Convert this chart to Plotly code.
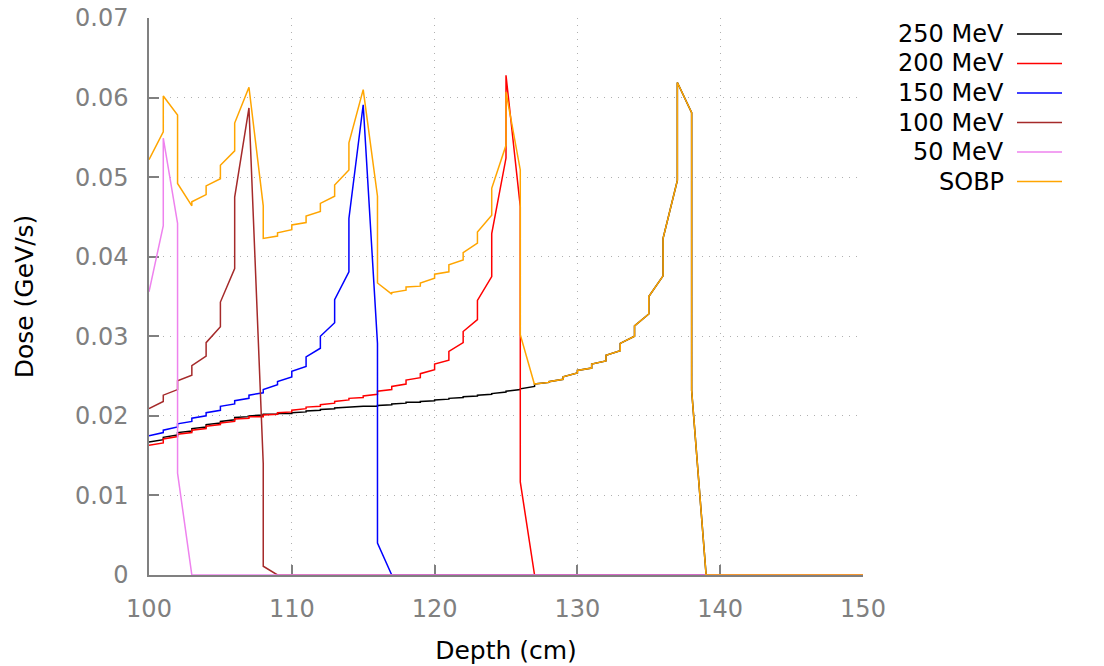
import plotly.graph_objects as go

# ---- data (depth in cm, dose in GeV/s) ----
# each knot has the dose arriving from the left and leaving to the right
depth_250 = [100, 101, 102, 103, 104, 105, 106, 107, 108, 109, 110, 111, 112, 113, 114, 115, 116, 117, 118, 119,
             120, 121, 122, 123, 124, 125, 126, 127, 128, 129, 130, 131, 132, 133, 134, 135, 136, 137, 138, 139, 150]
dose_in_250 = [0.0167, 0.0170, 0.0176, 0.0181, 0.0186, 0.0191, 0.0195, 0.0199, 0.0201, 0.0202, 0.0203, 0.0205,
               0.0207, 0.0209, 0.0211, 0.0212, 0.0212, 0.0214, 0.0216, 0.0217, 0.0219, 0.0221, 0.0223, 0.0225,
               0.0227, 0.0230, 0.0233, 0.0237, 0.0242, 0.0246, 0.0254, 0.0260, 0.0269, 0.0282, 0.0300, 0.0328,
               0.0376, 0.0496, 0.0581, 0.0003, 0.0]
dose_out_250 = [0.0167, 0.0173, 0.0179, 0.0184, 0.0189, 0.0193, 0.0198, 0.0200, 0.0202, 0.0203, 0.0204, 0.0206,
                0.0208, 0.0210, 0.0211, 0.0212, 0.0213, 0.0215, 0.0217, 0.0218, 0.0220, 0.0222, 0.0224, 0.0226,
                0.0228, 0.0231, 0.0234, 0.0240, 0.0243, 0.0249, 0.0257, 0.0265, 0.0276, 0.0291, 0.0313, 0.0350,
                0.0423, 0.0619, 0.0232, 0.0, 0.0]

depth_200 = [100, 101, 102, 103, 104, 105, 106, 107, 108, 109, 110, 111, 112, 113, 114, 115, 116, 117, 118, 119,
             120, 121, 122, 123, 124, 125, 126, 127, 150]
dose_in_200 = [0.0163, 0.0166, 0.0174, 0.0179, 0.0184, 0.0189, 0.0193, 0.0197, 0.0199, 0.0202, 0.0205, 0.0209,
               0.0212, 0.0216, 0.0220, 0.0223, 0.0227, 0.0233, 0.0240, 0.0248, 0.0258, 0.0270, 0.0292, 0.0321,
               0.0375, 0.0524, 0.0463, 0.0, 0.0]
dose_out_200 = [0.0163, 0.0171, 0.0177, 0.0182, 0.0187, 0.0191, 0.0196, 0.0199, 0.0201, 0.0204, 0.0207, 0.0211,
                0.0214, 0.0218, 0.0222, 0.0225, 0.0231, 0.0237, 0.0245, 0.0253, 0.0265, 0.0281, 0.0306, 0.0345,
                0.0429, 0.0628, 0.0117, 0.0, 0.0]

depth_150 = [100, 101, 102, 103, 104, 105, 106, 107, 108, 109, 110, 111, 112, 113, 114, 115, 116, 117, 150]
dose_in_150 = [0.0175, 0.0179, 0.0186, 0.0193, 0.0200, 0.0207, 0.0215, 0.0222, 0.0229, 0.0239, 0.0249, 0.0262,
               0.0285, 0.0317, 0.0381, 0.0591, 0.0291, 0.0, 0.0]
dose_out_150 = [0.0175, 0.0182, 0.0190, 0.0197, 0.0204, 0.0212, 0.0219, 0.0226, 0.0233, 0.0243, 0.0256, 0.0274,
                0.0300, 0.0346, 0.0448, 0.0591, 0.0040, 0.0, 0.0]

depth_100 = [100, 101, 102, 103, 104, 105, 106, 107, 108, 109, 150]
dose_in_100 = [0.0209, 0.0218, 0.0233, 0.0251, 0.0275, 0.0312, 0.0385, 0.0587, 0.0140, 0.0, 0.0]
dose_out_100 = [0.0209, 0.0226, 0.0244, 0.0263, 0.0292, 0.0343, 0.0475, 0.0587, 0.0011, 0.0, 0.0]

depth_50 = [100, 101, 102, 103, 150]
dose_in_50 = [0.0356, 0.0439, 0.0442, 0.0, 0.0]
dose_out_50 = [0.0356, 0.0549, 0.0128, 0.0, 0.0]

depth_sobp = [100, 101, 102, 103, 104, 105, 106, 107, 108, 109, 110, 111, 112, 113, 114, 115, 116, 117, 118, 119,
              120, 121, 122, 123, 124, 125, 126, 127, 128, 129, 130, 131, 132, 133, 134, 135, 136, 137, 138, 139, 150]
dose_in_sobp = [0.0522, 0.0557, 0.0578, 0.0464, 0.0478, 0.0498, 0.0533, 0.0613, 0.0464, 0.0426, 0.0434, 0.0443,
                0.0457, 0.0476, 0.0509, 0.0610, 0.0476, 0.0353, 0.0358, 0.0363, 0.0373, 0.0381, 0.0396, 0.0417,
                0.0452, 0.0540, 0.0509, 0.0239, 0.0242, 0.0246, 0.0254, 0.0260, 0.0269, 0.0282, 0.0300, 0.0328,
                0.0376, 0.0496, 0.0581, 0.0003, 0.0]
dose_out_sobp = [0.0522, 0.0602, 0.0492, 0.0469, 0.0489, 0.0515, 0.0568, 0.0613, 0.0423, 0.0430, 0.0440, 0.0451,
                 0.0467, 0.0490, 0.0543, 0.0610, 0.0367, 0.0355, 0.0362, 0.0367, 0.0378, 0.0390, 0.0405, 0.0431,
                 0.0486, 0.0607, 0.0302, 0.0240, 0.0243, 0.0249, 0.0257, 0.0265, 0.0276, 0.0291, 0.0313, 0.0350,
                 0.0423, 0.0619, 0.0232, 0.0, 0.0]

series_names = ["250 MeV", "200 MeV", "150 MeV", "100 MeV", "50 MeV", "SOBP"]
series_colors = ["#000000", "#ff0000", "#0000ff", "#a52a2a", "#ee82ee", "#ffa500"]

x_ticks = [100, 110, 120, 130, 140, 150]
y_ticks = [0, 0.01, 0.02, 0.03, 0.04, 0.05, 0.06, 0.07]
y_tick_text = ["0", "0.01", "0.02", "0.03", "0.04", "0.05", "0.06", "0.07"]

series_data = [
    (depth_250, dose_in_250, dose_out_250),
    (depth_200, dose_in_200, dose_out_200),
    (depth_150, dose_in_150, dose_out_150),
    (depth_100, dose_in_100, dose_out_100),
    (depth_50, dose_in_50, dose_out_50),
    (depth_sobp, dose_in_sobp, dose_out_sobp),
]


def knots_to_path(depth, dose_in, dose_out):
    xs, ys = [], []
    for d, a, b in zip(depth, dose_in, dose_out):
        xs += [d, d]
        ys += [a, b]
    return xs, ys


FONT = "DejaVu Sans"
GRAY = "#808080"

fig = go.Figure()
for name, color, (dep, din, dout) in zip(series_names, series_colors, series_data):
    xs, ys = knots_to_path(dep, din, dout)
    fig.add_trace(go.Scatter(x=xs, y=ys, mode="lines", name=name,
                             line=dict(color=color, width=1.5), showlegend=False))

# gnuplot-style key: right-aligned label followed by a line sample
L, R, T, B = 149, 863, 18, 575
W, H = R - L, B - T
row_y = [34, 63.5, 93, 122.5, 152, 181.5]
for name, color, py in zip(series_names, series_colors, row_y):
    yp = (B - py) / H
    fig.add_annotation(x=(1006 - L) / W, y=yp, xref="paper", yref="paper", text=name,
                       showarrow=False, xanchor="right", yanchor="middle",
                       font=dict(family=FONT, size=24, color="black"))
    fig.add_shape(type="line", xref="paper", yref="paper",
                  x0=(1017 - L) / W, x1=(1062 - L) / W, y0=yp, y1=yp,
                  line=dict(color=color, width=1.5))

axis_common = dict(
    showline=True, linecolor=GRAY, linewidth=1.5, mirror=False,
    ticks="inside", ticklen=10, tickcolor=GRAY, tickwidth=1.5,
    showgrid=True, gridcolor="#b0b0b0", gridwidth=1, griddash="1px,6px",
    zeroline=False, layer="below traces", automargin=False,
    tickfont=dict(family=FONT, size=24, color=GRAY),
)

fig.update_layout(
    width=1104, height=666,
    margin=dict(l=L, r=1104 - R, t=T, b=666 - B, autoexpand=False),
    plot_bgcolor="white", paper_bgcolor="white",
    showlegend=False,
    font=dict(family=FONT, size=24, color="black"),
    xaxis=dict(range=[100, 150], tickvals=x_ticks, ticklabelstandoff=11,
               title=dict(text="Depth (cm)", standoff=20, font=dict(family=FONT, size=25, color="black")),
               **axis_common),
    yaxis=dict(range=[0, 0.07], tickvals=y_ticks, ticktext=y_tick_text, ticklabelstandoff=14,
               title=dict(text="Dose (GeV/s)", standoff=34, font=dict(family=FONT, size=25, color="black")),
               **axis_common),
)

fig.write_html("out.html")
